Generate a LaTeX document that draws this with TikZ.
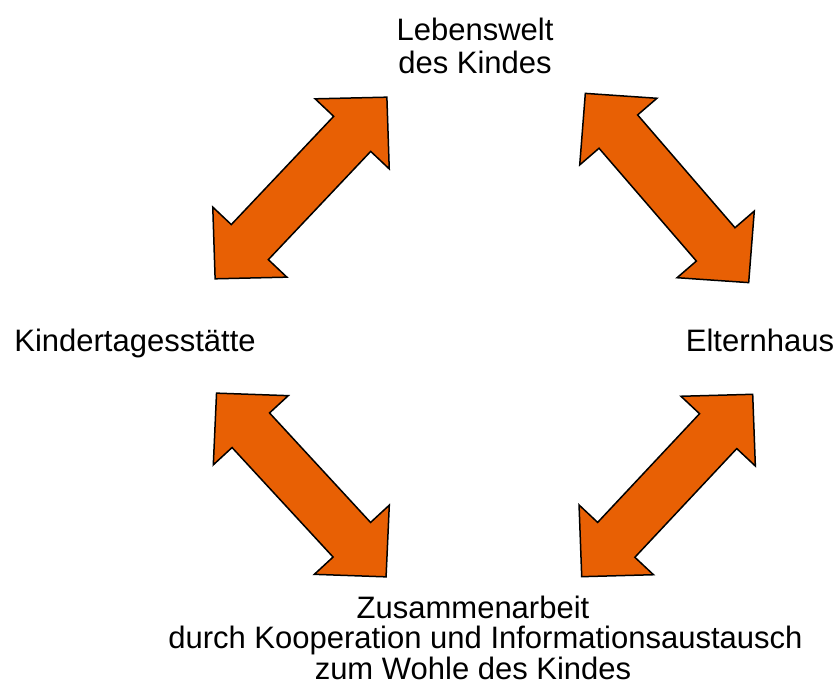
\documentclass[tikz,border=0pt]{standalone}
\usepackage{fontspec}
\setmainfont{Liberation Sans}
\definecolor{pfeilorange}{RGB}{232,96,4}

\begin{document}
\begin{tikzpicture}[x=1pt,y=1pt,line width=1.5pt,
  pfeil/.style={fill=pfeilorange,draw=black},
  beschriftung/.style={inner sep=0pt,font=\fontsize{31}{33}\selectfont,align=center},
  unten/.style={inner sep=0pt,font=\fontsize{31}{30.5}\selectfont,align=center},
  doppelpfeil/.pic={
    \draw[pfeil] (-125,0) -- (-74.5,51) -- (-74.5,25.5) -- (74.5,25.5) -- (74.5,51)
      -- (125,0) -- (74.5,-51) -- (74.5,-25.5) -- (-74.5,-25.5) -- (-74.5,-51) -- cycle;
  }]
\useasboundingbox (0,0) rectangle (840,690);

% Beschriftungen
\node[beschriftung,anchor=north] (lebenswelt) at (475,672.5) {Lebenswelt\\des Kindes};
\node[beschriftung,anchor=base] (kita) at (135,338) {Kindertagesstätte};
\node[beschriftung,anchor=base] (eltern) at (760,338) {Elternhaus};
\node[unten,anchor=north] (zusammen) at (473,95)
  {Zusammenarbeit\\\hspace*{0.8em}durch Kooperation und Informationsaustausch\\zum Wohle des Kindes};

% Doppelpfeile
\pic (pfeilA) [rotate=46.6] at (301,502) {doppelpfeil};
\pic (pfeilB) [rotate=-49.2] at (667,502) {doppelpfeil};
\pic (pfeilC) [rotate=-47.3] at (301.3,205) {doppelpfeil};
\pic (pfeilD) [rotate=46.85] at (667.2,204.5) {doppelpfeil};
\end{tikzpicture}
\end{document}
